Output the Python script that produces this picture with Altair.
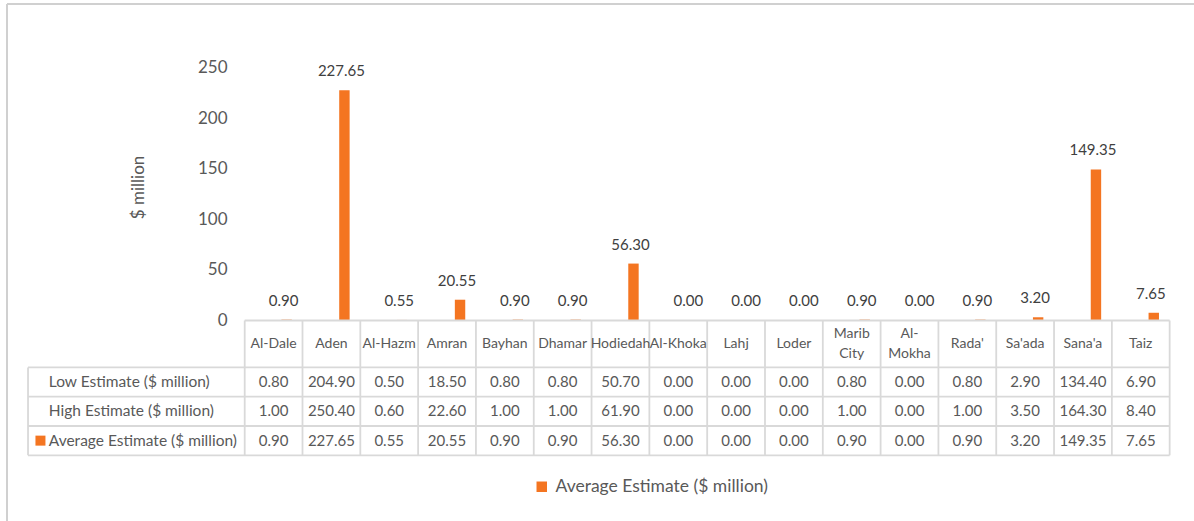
import altair as alt
import pandas as pd

# ---- data ----
categories = ["Al-Dale", "Aden", "Al-Hazm", "Amran", "Bayhan", "Dhamar", "Hodiedah",
              "Al-Khoka", "Lahj", "Loder", "Marib City", "Al-Mokha", "Rada'", "Sa'ada",
              "Sana'a", "Taiz"]
low_estimate = [0.80, 204.90, 0.50, 18.50, 0.80, 0.80, 50.70, 0.00, 0.00, 0.00,
                0.80, 0.00, 0.80, 2.90, 134.40, 6.90]
high_estimate = [1.00, 250.40, 0.60, 22.60, 1.00, 1.00, 61.90, 0.00, 0.00, 0.00,
                 1.00, 0.00, 1.00, 3.50, 164.30, 8.40]
average_estimate = [0.90, 227.65, 0.55, 20.55, 0.90, 0.90, 56.30, 0.00, 0.00, 0.00,
                    0.90, 0.00, 0.90, 3.20, 149.35, 7.65]
row_labels = ["Low Estimate ($ million)", "High Estimate ($ million)",
              "Average Estimate ($ million)"]
y_ticks = [0, 50, 100, 150, 200, 250]
header_wrap = {"Marib City": "Marib\nCity", "Al-Mokha": "Al-\nMokha"}

# ---- styling / layout ----
ORANGE = "#F47521"
GRID = "#D9D9D9"
FRAME = "#D0D0D0"
TEXT = "#595959"
LABEL = "#404040"
FONT = "Lato"

VIEW_W, VIEW_H = 1194, 521
X_DOMAIN = [-4.2328, 16.4210]        # one unit = one table column
Y_DOMAIN = [-198.28, 316.95]         # $ million
T_DOMAIN = [-10.939, 6.843]          # one unit = one table row
FRAME_X = -4.1118                    # left edge of the chart-area frame
FRAME_T = -10.802                    # top edge of the chart-area frame
BAR_CENTER, BAR_HALF = 0.725, 0.09
HEADER_H = 1.6                       # header row height in row units
LEFT_EDGE = -3.748                   # left edge of the row-label column
LABEL_X = -3.389
SWATCH_X = -3.533

n = len(categories)
x_scale = alt.Scale(domain=X_DOMAIN, nice=False, zero=False)
y_scale = alt.Scale(domain=Y_DOMAIN, nice=False, zero=False)
t_scale = alt.Scale(domain=T_DOMAIN, nice=False, zero=False, reverse=True)


def xq(field):
    return alt.X(field, scale=x_scale, axis=None)


def tq(field):
    return alt.Y(field, scale=t_scale, axis=None)


bars_df = pd.DataFrame({
    "category": categories,
    "xc": [i + BAR_CENTER for i in range(n)],
    "x0": [i + BAR_CENTER - BAR_HALF for i in range(n)],
    "x1": [i + BAR_CENTER + BAR_HALF for i in range(n)],
    "average": average_estimate,
    "series": [row_labels[2]] * n,
})

bars = alt.Chart(bars_df).mark_bar().encode(
    x=xq("x0:Q"),
    x2="x1:Q",
    y=alt.Y("average:Q", scale=y_scale,
            axis=alt.Axis(orient="left", offset=-235, values=y_ticks, domain=False,
                          ticks=False, tickSize=0, grid=False, labelPadding=8,
                          labelFontSize=17, labelColor=TEXT, labelFont=FONT,
                          title="$ million", titleFontSize=17, titleFontWeight="normal",
                          titleColor=TEXT, titleFont=FONT, titleX=-97, titleY=187,
                          titleBaseline="middle", titleAlign="center", titleAngle=270)),
    y2=alt.datum(0),
    color=alt.Color("series:N", scale=alt.Scale(range=[ORANGE]),
                    legend=alt.Legend(orient="none", legendX=533, legendY=478, title=None,
                                      symbolType="square", symbolSize=110,
                                      symbolStrokeWidth=0, labelFontSize=17.5,
                                      labelColor=TEXT, labelFont=FONT, padding=0,
                                      labelOffset=5, labelLimit=0)),
)

value_labels = alt.Chart(bars_df).mark_text(
    baseline="middle", align="center", dy=-19, dx=-3, fontSize=15, color=LABEL, font=FONT
).encode(
    x=xq("xc:Q"),
    y=alt.Y("average:Q", scale=y_scale),
    text=alt.Text("average:Q", format=".2f"),
)

chart_part = alt.layer(bars, value_labels)

# ---- data table below the plot ----
header_df = pd.DataFrame({
    "xc": [i + 0.5 for i in range(n)],
    "row": [HEADER_H / 2] * n,
    "label": [header_wrap.get(c, c) for c in categories],
    "wrapped": [c in header_wrap for c in categories],
})

cell_rows = []
for r, (name, vals) in enumerate(zip(row_labels, [low_estimate, high_estimate, average_estimate])):
    for i, v in enumerate(vals):
        cell_rows.append({"xc": i + 0.5, "row": HEADER_H + r + 0.5, "value": v, "series": name})
cells_df = pd.DataFrame(cell_rows)

row_label_df = pd.DataFrame({
    "x": [LABEL_X] * 3,
    "row": [HEADER_H + r + 0.5 for r in range(3)],
    "label": row_labels,
})

swatch_df = pd.DataFrame({"x": [SWATCH_X], "row": [HEADER_H + 2.5]})

bottom = HEADER_H + 3
line_rows = [{"x": 0, "x2": n, "y": 0, "y2": 0}]
for k in range(4):
    yy = HEADER_H + k
    line_rows.append({"x": LEFT_EDGE, "x2": n, "y": yy, "y2": yy})
line_rows.append({"x": LEFT_EDGE, "x2": LEFT_EDGE, "y": HEADER_H, "y2": bottom})
for i in range(n + 1):
    line_rows.append({"x": i, "x2": i, "y": 0, "y2": bottom})
lines_df = pd.DataFrame(line_rows)

# chart-area frame: top and left edges (the rest runs off the page)
frame_df = pd.DataFrame([
    {"x": FRAME_X, "x2": X_DOMAIN[1], "y": FRAME_T, "y2": FRAME_T},
    {"x": FRAME_X, "x2": FRAME_X, "y": FRAME_T, "y2": T_DOMAIN[1]},
])

frame = alt.Chart(frame_df).mark_rule(color=FRAME, strokeWidth=2).encode(
    x=xq("x:Q"), x2="x2:Q", y=tq("y:Q"), y2="y2:Q",
)

grid_lines = alt.Chart(lines_df).mark_rule(color=GRID, strokeWidth=1.8).encode(
    x=xq("x:Q"), x2="x2:Q", y=tq("y:Q"), y2="y2:Q",
)

header_single = alt.Chart(header_df).transform_filter(
    "!datum.wrapped"
).mark_text(
    baseline="middle", align="center", fontSize=14, color=TEXT, font=FONT
).encode(x=xq("xc:Q"), y=tq("row:Q"), text="label:N")

header_multi = alt.Chart(header_df).transform_filter(
    "datum.wrapped"
).mark_text(
    baseline="middle", align="center", fontSize=14, color=TEXT, font=FONT,
    lineBreak="\n", lineHeight=20, dy=-10
).encode(x=xq("xc:Q"), y=tq("row:Q"), text="label:N")

cell_text = alt.Chart(cells_df).mark_text(
    baseline="middle", align="center", fontSize=15, color=TEXT, font=FONT
).encode(
    x=xq("xc:Q"), y=tq("row:Q"),
    text=alt.Text("value:Q", format=".2f"),
)

row_label_text = alt.Chart(row_label_df).mark_text(
    baseline="middle", align="left", fontSize=15.5, color=TEXT, font=FONT
).encode(x=xq("x:Q"), y=tq("row:Q"), text="label:N")

swatch = alt.Chart(swatch_df).mark_square(size=100, color=ORANGE, opacity=1).encode(
    x=xq("x:Q"), y=tq("row:Q"),
)

table_part = alt.layer(grid_lines, header_single, header_multi, cell_text,
                       row_label_text, swatch, frame)

chart = alt.layer(chart_part, table_part).resolve_scale(
    y="independent"
).properties(
    width=VIEW_W,
    height=VIEW_H,
    padding=0,
    autosize=alt.AutoSizeParams(type="none"),
    background="white",
).configure(font=FONT).configure_view(stroke=None)

chart.save("out.html", embed_options={"renderer": "svg", "actions": False})
